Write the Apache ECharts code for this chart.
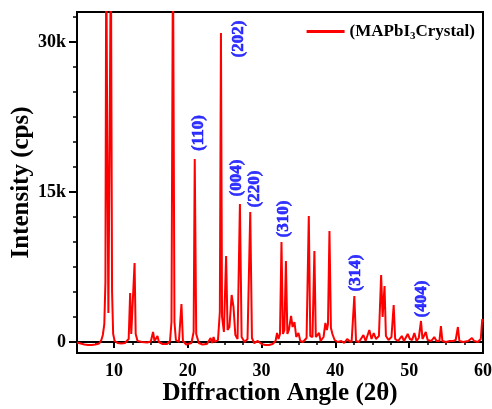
<!DOCTYPE html>
<html>
<head>
<meta charset="utf-8">
<script src="https://cdn.jsdelivr.net/npm/echarts@6/dist/echarts.min.js"></script>
<style>
    html, body {margin: 0; padding: 0; background: #fff;}
    #xrdChart {width: 492px; height: 409px;}
</style>
</head>
<body>
<div id="xrdChart"></div>
<script>
// 衍射角 2θ 和强度 (cps)
var twoTheta = [
    5.0, 5.5, 6.0, 6.5, 7.0, 7.5, 8.0, 8.3, 8.5, 8.7, 8.85, 8.96, 9.1, 9.25, 9.4, 9.59, 9.75, 9.9, 10.1, 10.5,
    11.0, 11.5, 12.0, 12.2, 12.35, 12.5, 12.8, 12.95, 13.2, 13.8, 14.5, 15.0, 15.3, 15.5, 15.7, 15.9, 16.1, 16.6,
    17.2, 17.6, 17.8, 18.0, 18.2, 18.4, 18.8, 19.15, 19.35, 19.8, 20.5, 20.8, 20.95, 21.15, 21.5, 22.0, 22.6,
    23.1, 23.3, 23.5, 23.7, 24.1, 24.35, 24.5, 24.65, 24.9, 25.2, 25.4, 25.65, 25.95, 26.2, 26.45, 26.75, 27.07,
    27.3, 27.7, 28.1, 28.47, 28.7, 29.0, 29.5, 30.0, 30.5, 31.0, 31.5, 31.9, 32.1, 32.3, 32.5, 32.7, 32.9, 33.1,
    33.3, 33.5, 33.7, 34.0, 34.2, 34.46, 34.7, 35.0, 35.25, 35.6, 36.1, 36.4, 36.6, 36.9, 37.16, 37.35, 37.6,
    37.8, 38.0, 38.4, 38.65, 38.85, 39.0, 39.2, 39.4, 39.6, 39.9, 40.3, 40.8, 41.2, 41.6, 41.9, 42.2, 42.57,
    42.8, 43.2, 43.8, 44.1, 44.6, 44.9, 45.2, 45.5, 45.9, 46.2, 46.4, 46.66, 46.85, 47.2, 47.6, 47.9, 48.1,
    48.5, 49.0, 49.3, 49.8, 50.1, 50.4, 50.7, 51.0, 51.3, 51.6, 51.8, 52.0, 52.25, 52.5, 53.0, 53.4, 53.7,
    54.1, 54.3, 54.5, 55.0, 55.5, 56.0, 56.3, 56.6, 56.8, 57.3, 58.0, 58.5, 58.8, 59.3, 59.7, 59.9, 60.0
];
var intensity = [
    -50, -150, -250, -300, -300, -250, -150, 200, 700, 1800, 6000, 40000, 20000, 2900, 18000, 40000, 5000, 800, 100, -100,
    -150, -100, 300, 4900, 800, 600, 7900, 800, 100, 0, -50, 50, 1000, 100, 100, 600, 0, -200,
    -200, 100, 2000, 40000, 2000, 200, 0, 3800, 100, -250, -100, 1000, 18300, 800, -100, -250, -200,
    400, -100, 500, 0, 200, 3000, 30900, 2500, 1000, 8600, 1200, 1500, 4700, 3500, 700, 300, 13800,
    500, 0, 300, 13000, 400, -100, 100, -200, -300, -300, -200, 100, 900, 300, 800, 10000, 800, 1200,
    8100, 800, 1200, 2600, 1500, 2000, 500, 900, 100, 0, 400, 12600, 600, 500, 9100, 500, 300,
    900, 100, 500, 1900, 1200, 1800, 11100, 1400, 800, 200, 0, 100, -100, 300, 100, 0, 4600,
    100, 0, 700, 100, 1200, 300, 900, 300, 600, 6700, 2500, 5600, 600, 200, 500, 3700, 300,
    100, 600, 100, 800, 300, 200, 900, 100, 400, 2100, 300, 200, 1000, 200, 100, 500, 100,
    100, 1600, 100, 0, 100, 100, 200, 1500, 100, 0, 100, 400, 100, 0, 300, 2300, 2000
];

// 晶面指数标注 (文字中心的位置)
var planeNames = ['(110)', '(202)', '(004)', '(220)', '(310)', '(314)', '(404)'];
var planeX = [21.5, 26.9, 26.6, 29.05, 33.0, 42.7, 51.7];
var planeY = [20900, 30300, 16400, 15300, 12300, 6900, 4300];

// 刻度
var xLabelTicks = [10, 20, 30, 40, 50, 60];
var xMinorTicks = [5, 7.5, 10, 12.5, 15, 17.5, 20, 22.5, 25, 27.5, 30, 32.5, 35, 37.5, 40, 42.5, 45, 47.5, 50, 52.5, 55, 57.5, 60];
var yLabelTicks = [0, 15000, 30000];
var yMinorTicks = [0, 2500, 5000, 7500, 10000, 12500, 15000, 17500, 20000, 22500, 25000, 27500, 30000, 32500];

var serif = 'Liberation Serif';

var lineData = twoTheta.map(function (x, i) {
    return [x, intensity[i]];
});
var planeData = planeNames.map(function (name, i) {
    return {name: name, value: [planeX[i], planeY[i]]};
});

var xrdChart = echarts.init(document.getElementById('xrdChart'));
var xrdOption = {
    animation: false,
    backgroundColor: '#fff',
    grid: {
        left: 77, right: 9, top: 12, bottom: 56,
        outerBoundsMode: 'none', containLabel: false,
        show: true, borderColor: '#000', borderWidth: 2
    },
    legend: {
        data: ['(MAPbI3Crystal)'],
        right: 12, top: 18,
        icon: 'rect', itemWidth: 38, itemHeight: 3, itemGap: 4,
        formatter: function () {
            return '{a|(MAPbI}{s|3}{a|Crystal)}';
        },
        textStyle: {
            rich: {
                a: {fontFamily: serif, fontWeight: 'bold', fontSize: 17, color: '#000'},
                s: {fontFamily: serif, fontWeight: 'bold', fontSize: 11, color: '#000', padding: [9, 0, 0, 0]}
            }
        }
    },
    xAxis: [{
        type: 'value', min: 5, max: 60,
        name: 'Diffraction Angle (2θ)', nameLocation: 'middle', nameGap: 28, nameMoveOverlap: false,
        nameTextStyle: {fontFamily: serif, fontWeight: 'bold', fontSize: 25, color: '#000'},
        axisLine: {lineStyle: {color: '#000', width: 2}},
        axisTick: {customValues: xLabelTicks, length: 6, lineStyle: {color: '#000', width: 2}},
        axisLabel: {customValues: xLabelTicks, margin: 9, fontFamily: serif, fontWeight: 'bold', fontSize: 18, color: '#000'},
        splitLine: {show: false}
    }, {
        type: 'value', min: 5, max: 60, position: 'bottom',
        axisLine: {show: false},
        axisTick: {customValues: xMinorTicks, length: 3, lineStyle: {color: '#000', width: 1.5}},
        axisLabel: {show: false},
        splitLine: {show: false}
    }],
    yAxis: [{
        type: 'value', min: -1100, max: 33000,
        name: 'Intensity (cps)', nameLocation: 'middle', nameGap: 43, nameMoveOverlap: false,
        nameTextStyle: {fontFamily: serif, fontWeight: 'bold', fontSize: 25, color: '#000'},
        axisLine: {show: true, lineStyle: {color: '#000', width: 2}},
        axisTick: {show: true, customValues: yLabelTicks, length: 8, lineStyle: {color: '#000', width: 2}},
        axisLabel: {
            customValues: yLabelTicks, margin: 11,
            fontFamily: serif, fontWeight: 'bold', fontSize: 18, color: '#000',
            formatter: function (v) {
                return v === 0 ? '0' : (v / 1000) + 'k';
            }
        },
        splitLine: {show: false}
    }, {
        type: 'value', min: -1100, max: 33000, position: 'left',
        axisLine: {show: false},
        axisTick: {show: true, customValues: yMinorTicks, length: 4, lineStyle: {color: '#000', width: 1.5}},
        axisLabel: {show: false},
        splitLine: {show: false}
    }],
    series: [{
        name: '(MAPbI3Crystal)',
        type: 'line',
        data: lineData,
        showSymbol: false,
        clip: true,
        color: '#ff0000',
        lineStyle: {color: '#ff0000', width: 2}
    }, {
        name: 'planes',
        type: 'scatter',
        data: planeData,
        symbolSize: 0,
        silent: true,
        label: {
            show: true, position: 'inside', rotate: 90,
            formatter: '{b}',
            fontFamily: serif, fontWeight: 'bold', fontSize: 17, color: '#0000ff',
            textBorderColor: '#0000ff', textBorderWidth: 0.6
        }
    }]
};
xrdChart.setOption(xrdOption);
</script>
</body>
</html>
